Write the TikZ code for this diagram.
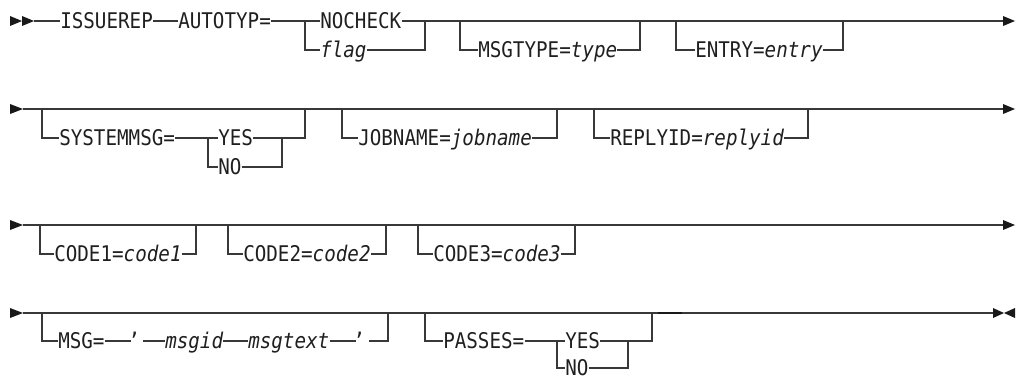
\documentclass[tikz,border=0pt]{standalone}
\usepackage{fontspec}
\setmainfont{DejaVu Sans Mono}[FakeStretch=0.89]
\usetikzlibrary{calc}
\begin{document}
\begin{tikzpicture}[x=0.75pt,y=-0.75pt,
  rail/.style={line width=1pt,draw=black!78},
  lbl/.style={inner sep=0pt,anchor=west,text height=11.8pt,text depth=0pt,
    font=\fontsize{16.2}{20}\selectfont,text=black!88},
  tip/.style={fill=black!90}]
\useasboundingbox (0,0) rectangle (1017,379);

% ---------- Row 1 ----------
\fill[tip] (10,16) -- (22,21) -- (10,26) -- cycle;
\fill[tip] (22,16) -- (34,21) -- (22,26) -- cycle;
\coordinate (s1) at (34,21);
\node[lbl] (issuerep) at (60,21) {ISSUEREP};
\node[lbl] (autotyp) at (178,21) {AUTOTYP=};
\coordinate (b1) at (305,21);
\node[lbl] (nocheck) at (320,21) {NOCHECK};
\node[lbl] (flag) at (320,50) {\itshape flag};
\coordinate (j1) at (425,21);
\coordinate (m1a) at (460,21);
\coordinate (m1b) at (640,21);
\node[lbl] (msgtype) at (478,50) {MSGTYPE=\textit{type}};
\coordinate (n1a) at (676,21);
\coordinate (n1b) at (843,21);
\node[lbl] (entry) at (695,50) {ENTRY=\textit{entry}};
\coordinate (e1) at (1003,21);
\draw[rail] (s1) -- (issuerep.west) (issuerep.east) -- (autotyp.west)
  (autotyp.east) -- (nocheck.west) (nocheck.east) -- (e1);
\draw[rail] (b1) |- (flag.west) (flag.east) -| (j1);
\draw[rail] (m1a) |- (msgtype.west) (msgtype.east) -| (m1b);
\draw[rail] (n1a) |- (entry.west) (entry.east) -| (n1b);
\fill[tip] (1003,16) -- (1015,21) -- (1003,26) -- cycle;

% ---------- Row 2 ----------
\fill[tip] (10,104) -- (23,109) -- (10,114) -- cycle;
\coordinate (s2) at (23,109);
\coordinate (e2) at (1003,109);
\draw[rail] (s2) -- (e2);
\coordinate (y2a) at (42,109);
\node[lbl] (sysmsg) at (59,138) {SYSTEMMSG=};
\coordinate (b2) at (208,138);
\node[lbl] (yes2) at (218,138) {YES};
\node[lbl] (no2) at (218,167) {NO};
\coordinate (j2) at (282,138);
\coordinate (y2b) at (305,109);
\draw[rail] (y2a) |- (sysmsg.west) (sysmsg.east) -- (yes2.west)
  (yes2.east) -- (j2) -| (y2b);
\draw[rail] (b2) |- (no2.west) (no2.east) -| (j2);
\coordinate (jb2a) at (342,109);
\coordinate (jb2b) at (557,109);
\node[lbl] (jobname) at (358,138) {JOBNAME=\textit{jobname}};
\draw[rail] (jb2a) |- (jobname.west) (jobname.east) -| (jb2b);
\coordinate (r2a) at (594,109);
\coordinate (r2b) at (808,109);
\node[lbl] (replyid) at (610,138) {REPLYID=\textit{replyid}};
\draw[rail] (r2a) |- (replyid.west) (replyid.east) -| (r2b);
\fill[tip] (1003,104) -- (1015,109) -- (1003,114) -- cycle;

% ---------- Row 3 ----------
\fill[tip] (10,220) -- (23,225) -- (10,230) -- cycle;
\coordinate (s3) at (23,225);
\coordinate (e3) at (1003,225);
\draw[rail] (s3) -- (e3);
\coordinate (c1a) at (40,225);
\coordinate (c1b) at (196,225);
\node[lbl] (code1) at (54,254) {CODE1=\textit{code1}};
\draw[rail] (c1a) |- (code1.west) (code1.east) -| (c1b);
\coordinate (c2a) at (228,225);
\coordinate (c2b) at (386,225);
\node[lbl] (code2) at (243,254) {CODE2=\textit{code2}};
\draw[rail] (c2a) |- (code2.west) (code2.east) -| (c2b);
\coordinate (c3a) at (418,225);
\coordinate (c3b) at (575,225);
\node[lbl] (code3) at (433,254) {CODE3=\textit{code3}};
\draw[rail] (c3a) |- (code3.west) (code3.east) -| (c3b);
\fill[tip] (1003,220) -- (1015,225) -- (1003,230) -- cycle;

% ---------- Row 4 ----------
\fill[tip] (10,308) -- (23,313) -- (10,318) -- cycle;
\coordinate (s4) at (23,313);
\coordinate (e4) at (993,313);
\draw[rail] (s4) -- (e4);
\coordinate (g4a) at (42,313);
\node[lbl] (msg) at (58,341) {MSG=};
\node[lbl] (q1) at (128,341) {’};
\node[lbl] (msgid) at (165,341) {\itshape msgid};
\node[lbl] (msgtext) at (248,341) {\itshape msgtext};
\node[lbl] (q2) at (353,341) {’};
\coordinate (g4b) at (388,313);
\draw[rail] (g4a) |- (msg.west) (msg.east) -- ($(q1.west)+(3,0)$)
  ($(q1.east)+(3,0)$) -- (msgid.west) (msgid.east) -- (msgtext.west)
  (msgtext.east) -- ($(q2.west)+(3,0)$) ($(q2.east)+(4,0)$) -| (g4b);
\coordinate (p4a) at (425,313);
\node[lbl] (passes) at (443,341) {PASSES=};
\coordinate (b4) at (557,341);
\node[lbl] (yes4) at (565,341) {YES};
\node[lbl] (no4) at (565,368) {NO};
\coordinate (j4) at (628,341);
\coordinate (p4b) at (652,313);
\draw[rail] (p4a) |- (passes.west) (passes.east) -- (yes4.west)
  (yes4.east) -- (j4) -| (p4b);
\draw[rail] (b4) |- (no4.west) (no4.east) -| (j4);
\coordinate (t4a) at (658,313);
\coordinate (t4b) at (682,313);
\draw[line width=1.8pt,draw=black!90] (t4a) -- (t4b);
\fill[tip] (993,308) -- (1004,313) -- (993,318) -- cycle;
\fill[tip] (1015,308) -- (1004,313) -- (1015,318) -- cycle;
\end{tikzpicture}
\end{document}
